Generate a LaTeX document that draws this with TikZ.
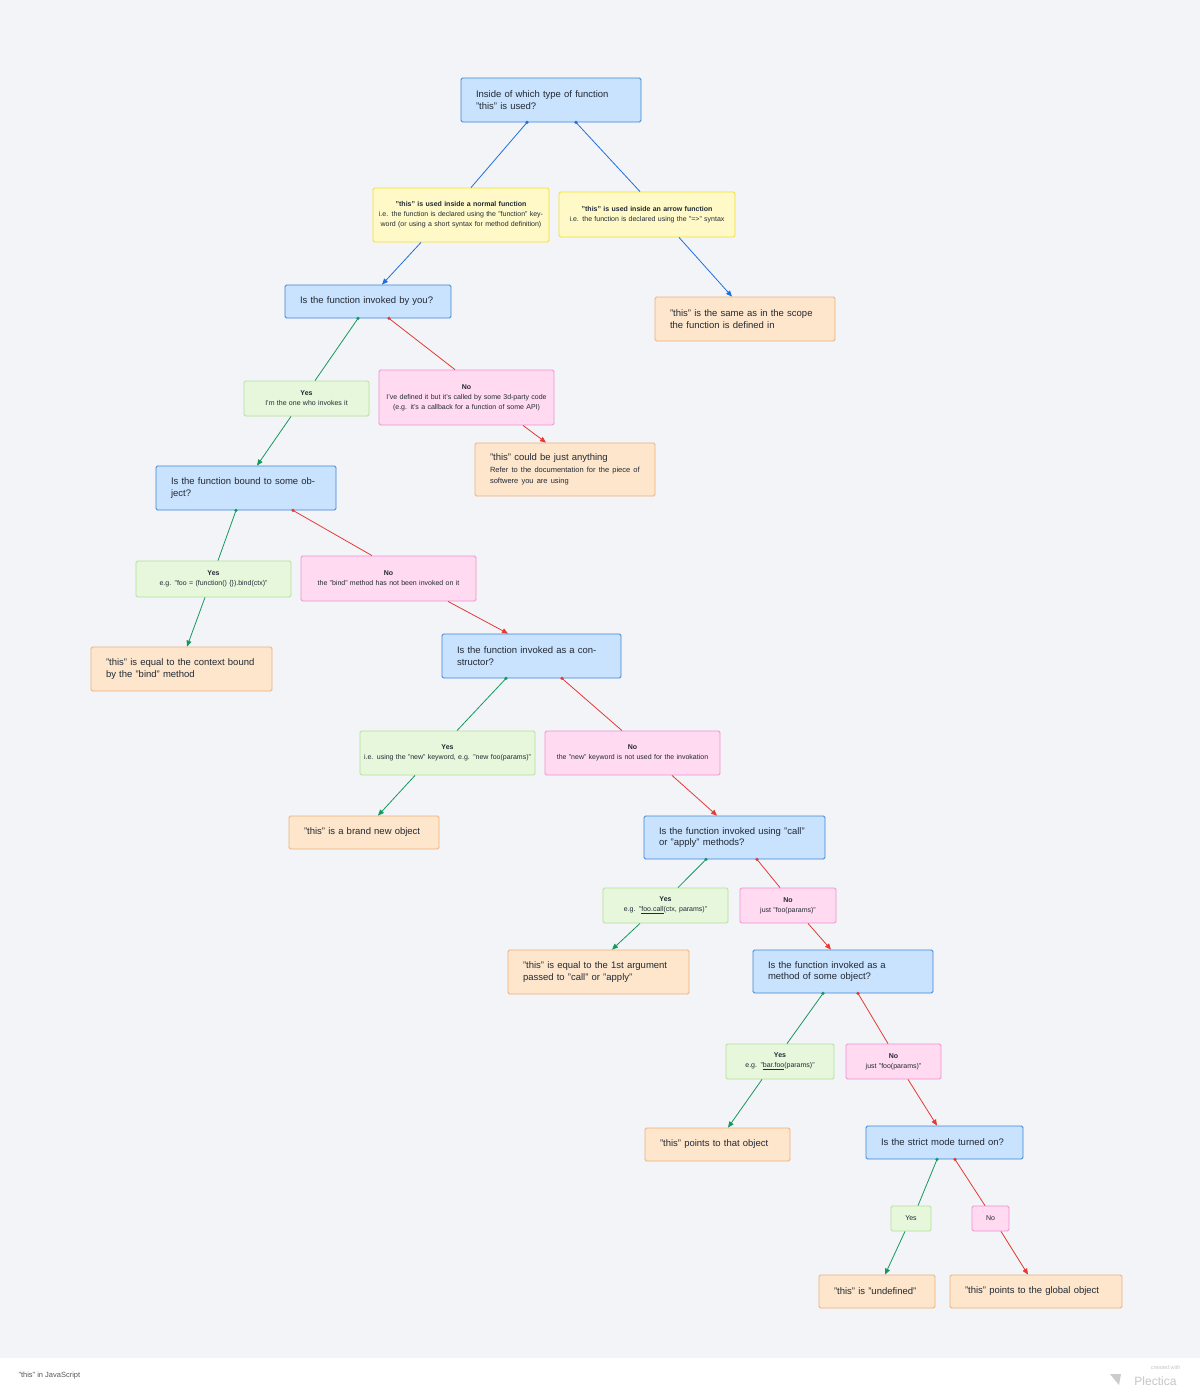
\documentclass[tikz,border=0pt]{standalone}
\usepackage{fontspec}
\setmainfont{Liberation Sans}
\usetikzlibrary{arrows.meta}
\definecolor{bg}{HTML}{F3F4F8}
\definecolor{qf}{HTML}{C9E2FD}\definecolor{qd}{HTML}{3D85D8}
\definecolor{yf}{HTML}{FFF9C8}\definecolor{yd}{HTML}{F2E030}
\definecolor{gf}{HTML}{E6F7DC}\definecolor{gd}{HTML}{B2E197}
\definecolor{pf}{HTML}{FFDAF0}\definecolor{pd}{HTML}{F190CE}
\definecolor{of}{HTML}{FEE6CC}\definecolor{od}{HTML}{ECB07A}
\definecolor{eb}{HTML}{1F6FE0}\definecolor{eg}{HTML}{15995A}\definecolor{er}{HTML}{E53935}
\definecolor{tx}{HTML}{222A35}
\tikzset{
 bx/.style={rectangle,rounded corners=1.5pt,inner sep=0pt,line width=0.8pt,text=tx},
 qbox/.style={bx,fill=qf,draw=qd,align=left,font=\fontsize{9.5}{11.5}\selectfont},
 abox/.style={bx,fill=of,draw=od,align=left,font=\fontsize{9.5}{11.5}\selectfont},
 ybox/.style={bx,fill=yf,draw=yd,align=center,font=\fontsize{7}{10}\selectfont},
 gbox/.style={bx,fill=gf,draw=gd,align=center,font=\fontsize{7}{10}\selectfont},
 pbox/.style={bx,fill=pf,draw=pd,align=center,font=\fontsize{7}{10}\selectfont},
 eB/.style={eb,line width=0.8pt},eG/.style={eg,line width=0.8pt},eR/.style={er,line width=0.8pt},
 tip/.style={-{Triangle[length=6pt,width=5pt]}},
 dot/.style={circle,fill,inner sep=1.4pt}
}
\newcommand{\bx}[7]{\node[#2,minimum width={#5-#3},minimum height={#6-#4},text width={#5-#3-30}] (#1) at ({(#3+#5)/2},{(#4+#6)/2}) {#7};}
\newcommand{\lb}[7]{\node[#2,minimum width={#5-#3},minimum height={#6-#4},text width={#5-#3-6}] (#1) at ({(#3+#5)/2},{(#4+#6)/2}) {#7};}
% from A bottom at x=#3 to B top at x=#5 (no arrow); then label to target with arrow
\newcommand{\eA}[5]{\draw[#1] (#2.south -| #3,0) -- (#4.north -| #5,0); \fill[#1] (#2.south -| #3,0) circle (1.8pt);}
\newcommand{\eZ}[5]{\draw[#1,tip] (#2.south -| #3,0) -- (#4.north -| #5,0);}
\begin{document}
\begin{tikzpicture}[x=1pt,y=-1pt]
\fill[bg] (0,0) rectangle (1200,1358);
\fill[white] (0,1358) rectangle (1200,1395);
\useasboundingbox (0,0) rectangle (1200,1395);
\node[anchor=west,text=gray!70!black,font=\fontsize{7.5}{9}\selectfont] (foot) at (15,1376) {"this" in JavaScript};
\node[anchor=east,text=gray!45,font=\fontsize{5.5}{6}\selectfont] (cw) at (1184,1368) {created with};
\node[anchor=east,text=gray!45,font=\fontsize{12}{12}\selectfont] (pl) at (1180,1381) {Plectica};
\fill[gray!40] (1110,1374) -- (1121,1374) -- (1119,1385) -- cycle;

\bx{Q1}{qbox}{461}{78}{641}{122}{Inside of which type of function\\"this" is used?}
\lb{Y1}{ybox}{373}{188}{549}{242}{\textbf{"this" is used inside a normal function}\\i.e. the function is declared using the "function" keyword (or using a short syntax for method definition)}
\lb{Y2}{ybox}{559}{192}{735}{237}{\textbf{"this" is used inside an arrow function}\\i.e. the function is declared using the "=>" syntax}
\bx{Q2}{qbox}{285}{285}{451}{318}{Is the function invoked by you?}
\bx{A1}{abox}{655}{297}{835}{341}{"this" is the same as in the scope the function is defined in}
\lb{G1}{gbox}{244}{381}{369}{416}{\textbf{Yes}\\I'm the one who invokes it}
\lb{P1}{pbox}{379}{370}{554}{425}{\textbf{No}\\I've defined it but it's called by some 3d-party code (e.g. it's a callback for a function of some API)}
\bx{A2}{abox}{475}{443}{655}{496}{"this" could be just anything\\{\fontsize{7.5}{10}\selectfont Refer to the documentation for the piece of softwere you are using}}
\bx{Q3}{qbox}{156}{466}{336}{510}{Is the function bound to some object?}
\lb{G2}{gbox}{136}{561}{291}{597}{\textbf{Yes}\\e.g. "foo = (function() \{\}).bind(ctx)"}
\lb{P2}{pbox}{301}{556}{476}{601}{\textbf{No}\\the "bind" method has not been invoked on it}
\bx{A3}{abox}{91}{647}{272}{691}{"this" is equal to the context bound by the "bind" method}
\bx{Q4}{qbox}{442}{634}{621}{678}{Is the function invoked as a constructor?}
\lb{G3}{gbox}{360}{731}{535}{775}{\textbf{Yes}\\i.e. using the "new" keyword, e.g. "new foo(params)"}
\lb{P3}{pbox}{545}{731}{720}{775}{\textbf{No}\\the "new" keyword is not used for the invokation}
\bx{A4}{abox}{289}{816}{439}{849}{"this" is a brand new object}
\bx{Q5}{qbox}{644}{816}{825}{859}{Is the function invoked using "call" or "apply" methods?}
\lb{G4}{gbox}{603}{888}{728}{923}{\textbf{Yes}\\e.g. "\underline{foo.call}(ctx, params)"}
\lb{P4}{pbox}{740}{888}{836}{923}{\textbf{No}\\just "foo(params)"}
\bx{A5}{abox}{508}{950}{689}{994}{"this" is equal to the 1st argument passed to "call" or "apply"}
\bx{Q6}{qbox}{753}{950}{933}{993}{Is the function invoked as a method of some object?}
\lb{G5}{gbox}{726}{1044}{834}{1079}{\textbf{Yes}\\e.g. "\underline{bar.foo}(params)"}
\lb{P5}{pbox}{846}{1044}{941}{1079}{\textbf{No}\\just "foo(params)"}
\bx{A6}{abox}{645}{1128}{790}{1161}{"this" points to that object}
\bx{Q7}{qbox}{866}{1126}{1023}{1159}{Is the strict mode turned on?}
\lb{G6}{gbox}{891}{1206}{931}{1231}{Yes}
\lb{P6}{pbox}{972}{1206}{1009}{1231}{No}
\bx{A7}{abox}{819}{1275}{935}{1308}{"this" is "undefined"}
\bx{A8}{abox}{950}{1275}{1122}{1308}{"this" points to the global object}

\eA{eB}{Q1}{527}{Y1}{471}
\eA{eB}{Q1}{576}{Y2}{640}
\eZ{eB}{Y1}{421}{Q2}{382}
\eZ{eB}{Y2}{679}{A1}{732}
\eA{eG}{Q2}{358}{G1}{315}\eZ{eG}{G1}{291}{Q3}{257}
\eA{eR}{Q2}{389}{P1}{455}\eZ{eR}{P1}{523}{A2}{546}
\eA{eG}{Q3}{236}{G2}{218}\eZ{eG}{G2}{205}{A3}{187}
\eA{eR}{Q3}{293}{P2}{372}\eZ{eR}{P2}{448}{Q4}{508}
\eA{eG}{Q4}{506}{G3}{457}\eZ{eG}{G3}{415}{A4}{378}
\eA{eR}{Q4}{562}{P3}{622}\eZ{eR}{P3}{672}{Q5}{717}
\eA{eG}{Q5}{706}{G4}{678}\eZ{eG}{G4}{640}{A5}{612}
\eA{eR}{Q5}{757}{P4}{780}\eZ{eR}{P4}{808}{Q6}{831}
\eA{eG}{Q6}{823}{G5}{787}\eZ{eG}{G5}{762}{A6}{728}
\eA{eR}{Q6}{858}{P5}{888}\eZ{eR}{P5}{908}{Q7}{937}
\eA{eG}{Q7}{937}{G6}{918}\eZ{eG}{G6}{905}{A7}{885}
\eA{eR}{Q7}{955}{P6}{985}\eZ{eR}{P6}{1001}{A8}{1028}
\end{tikzpicture}
\end{document}
